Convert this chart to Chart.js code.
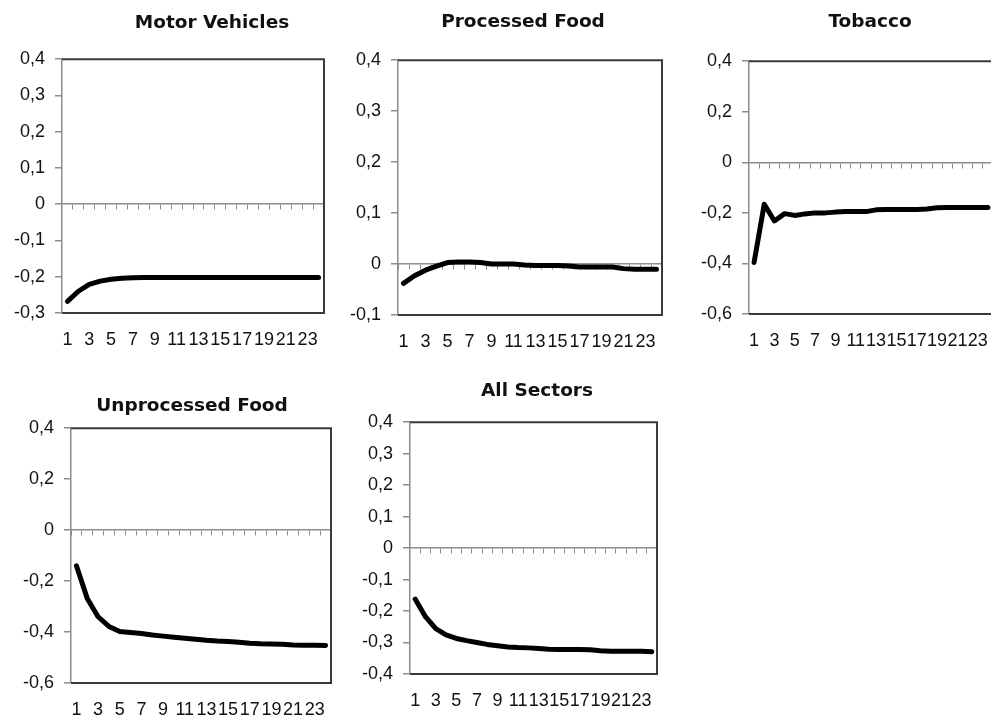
<!DOCTYPE html>
<html>
<head>
<meta charset="utf-8">
<script src="https://cdn.jsdelivr.net/npm/chart.js@4/dist/chart.umd.min.js"></script>
<style>
  html, body { margin: 0; padding: 0; background: #fff; overflow: hidden; width: 991px; height: 717px; }
  canvas { position: absolute; }
  #motor { left: 2px; top: 0px; }
  #processed { left: 338px; top: 0px; }
  #tobacco { left: 689px; top: 0px; }
  #unprocessed { left: 11px; top: 370px; }
  #all { left: 350px; top: 370px; }
</style>
</head>
<body>
<canvas id="motor" width="420" height="353"></canvas>
<canvas id="processed" width="370" height="355"></canvas>
<canvas id="tobacco" width="362" height="354"></canvas>
<canvas id="unprocessed" width="362" height="353"></canvas>
<canvas id="all" width="374" height="344"></canvas>
<script>
// periods after the shock
const periods = ['1','2','3','4','5','6','7','8','9','10','11','12','13','14','15','16','17','18','19','20','21','22','23','24'];

const motorVehicles = [-0.268,-0.240,-0.221,-0.212,-0.207,-0.204,-0.203,-0.202,-0.202,-0.202,-0.202,-0.202,-0.202,-0.202,-0.202,-0.202,-0.202,-0.202,-0.202,-0.202,-0.202,-0.202,-0.202,-0.202];
const processedFood = [-0.038,-0.023,-0.012,-0.004,0.003,0.004,0.004,0.003,0.000,0.000,0.000,-0.002,-0.003,-0.003,-0.003,-0.004,-0.006,-0.006,-0.006,-0.006,-0.009,-0.010,-0.010,-0.010];
const tobacco = [-0.396,-0.166,-0.232,-0.203,-0.210,-0.204,-0.200,-0.200,-0.197,-0.195,-0.195,-0.195,-0.188,-0.187,-0.187,-0.187,-0.187,-0.185,-0.180,-0.179,-0.179,-0.179,-0.179,-0.179];
const unprocessedFood = [-0.140,-0.268,-0.340,-0.378,-0.398,-0.402,-0.406,-0.412,-0.416,-0.420,-0.424,-0.428,-0.432,-0.435,-0.437,-0.440,-0.444,-0.446,-0.447,-0.448,-0.451,-0.452,-0.452,-0.453];
const allSectors = [-0.162,-0.218,-0.256,-0.276,-0.287,-0.294,-0.300,-0.306,-0.310,-0.314,-0.316,-0.317,-0.319,-0.321,-0.322,-0.322,-0.322,-0.323,-0.326,-0.328,-0.328,-0.328,-0.328,-0.329];

const axisGray = '#8c8c8c';
const textColor = '#111';

// dark frame on top, right and bottom of the plot area (left is the gray y axis)
const plotFrame = {
  id: 'plotFrame',
  beforeDatasetsDraw(chart) {
    const a = chart.chartArea, ctx = chart.ctx;
    ctx.save();
    ctx.strokeStyle = '#3a3a3a';
    ctx.lineWidth = 2;
    ctx.beginPath();
    ctx.moveTo(a.left, a.top);
    ctx.lineTo(a.right, a.top);
    ctx.lineTo(a.right, a.bottom);
    ctx.lineTo(a.left, a.bottom);
    ctx.stroke();
    ctx.restore();
  }
};

function commaTick(v) {
  const r = Math.round(v * 10) / 10;
  return r === 0 ? '0' : r.toFixed(1).replace('.', ',');
}

function makeChart(id, title, values, yMin, yMax, yStep, padTop, padBottom, rightW) {
  new Chart(document.getElementById(id), {
    type: 'line',
    data: {
      labels: periods,
      datasets: [{
        data: values,
        borderColor: '#000',
        borderWidth: 5,
        pointRadius: 0,
        tension: 0,
        borderJoinStyle: 'round',
        borderCapStyle: 'round'
      }]
    },
    options: {
      responsive: false,
      animation: false,
      layout: { padding: 0 },
      scales: {
        x: {
          type: 'category',
          offset: true,
          grid: { display: false, drawTicks: false },
          border: { display: false },
          ticks: {
            autoSkip: false,
            maxRotation: 0,
            minRotation: 0,
            padding: 16,
            color: textColor,
            font: { family: 'Liberation Sans', size: 18 },
            callback: (v, i) => i % 2 === 0 ? periods[i] : ''
          },
          afterFit(s) { s.height = 40; }
        },
        x0: {
          type: 'category',
          position: { y: 0 },
          offset: true,
          grid: { offset: true, drawOnChartArea: false, drawTicks: true, tickLength: 5, color: axisGray, lineWidth: 1 },
          border: { display: true, color: axisGray, width: 1.5 },
          ticks: { display: false }
        },
        y: {
          min: yMin,
          max: yMax,
          grid: { drawOnChartArea: false, drawTicks: true, tickLength: 7, color: axisGray, lineWidth: 1.5 },
          border: { display: true, color: axisGray, width: 1.5 },
          ticks: {
            stepSize: yStep,
            padding: 10,
            color: textColor,
            font: { family: 'Liberation Sans', size: 18 },
            callback: commaTick
          },
          afterFit(s) { s.width = 60; }
        },
        y2: {
          position: 'right',
          grid: { display: false },
          border: { display: false },
          ticks: { display: false },
          afterFit(s) { s.width = rightW; }
        }
      },
      plugins: {
        legend: { display: false },
        tooltip: { enabled: false },
        title: {
          display: true,
          text: title,
          color: textColor,
          font: { family: 'DejaVu Sans', size: 18.5, weight: 'bold' },
          padding: { top: padTop, bottom: padBottom }
        }
      }
    },
    plugins: [plotFrame]
  });
}

makeChart('motor', 'Motor Vehicles', motorVehicles, -0.3, 0.4, 0.1, 12, 25, 98);
makeChart('processed', 'Processed Food', processedFood, -0.1, 0.4, 0.1, 11, 27, 46);
makeChart('tobacco', 'Tobacco', tobacco, -0.6, 0.4, 0.2, 11, 28, 58);
makeChart('unprocessed', 'Unprocessed Food', unprocessedFood, -0.6, 0.4, 0.2, 25, 11, 42);
makeChart('all', 'All Sectors', allSectors, -0.4, 0.4, 0.1, 10, 20, 67);
</script>
</body>
</html>
